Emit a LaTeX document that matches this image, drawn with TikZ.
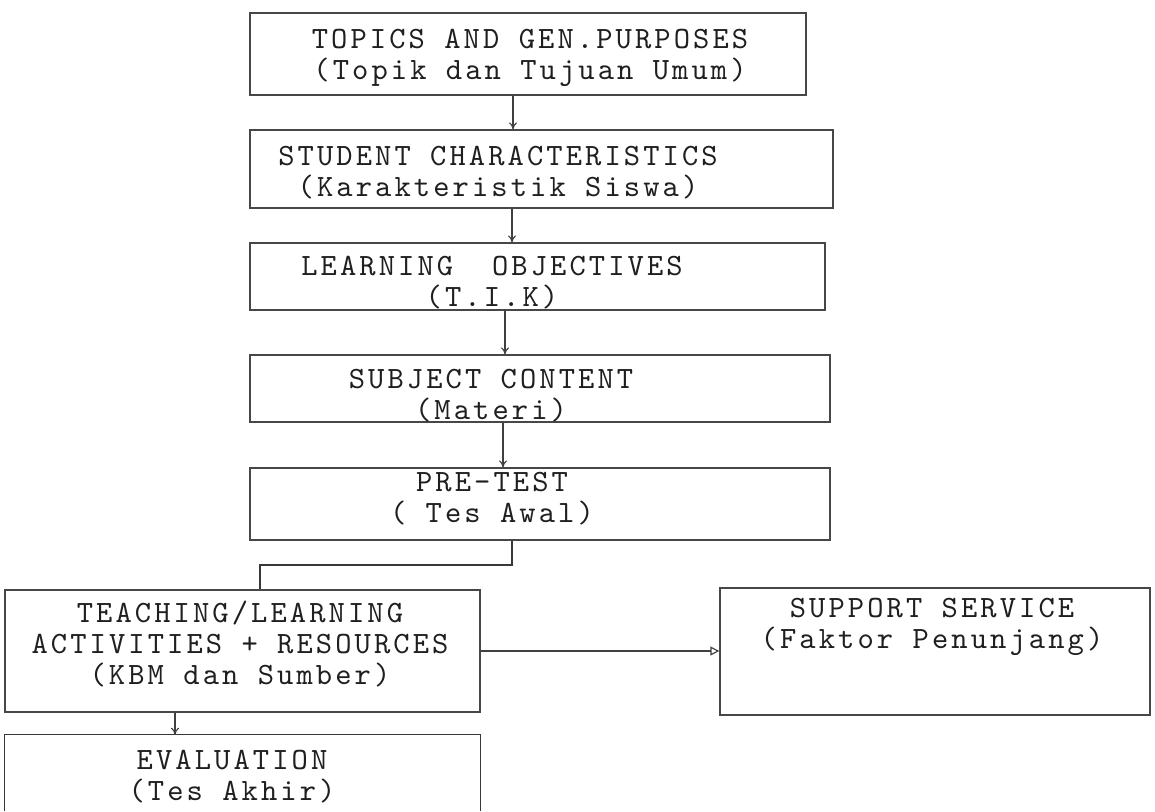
\documentclass[tikz,border=0pt]{standalone}
\usepackage{fontspec}
\newfontfamily\typew{lmmono10-regular.otf}[LetterSpace=10]
\usetikzlibrary{arrows.meta}
\begin{document}
\begin{tikzpicture}[x=1pt,y=-1pt,
  box/.style={draw=black!72,line width=1.3pt,rectangle,inner sep=0pt},
  txt/.style={align=center,inner sep=0pt,text=black!88,font=\fontsize{31}{31}\selectfont\typew},
  arr/.style={draw=black!75,line width=1.2pt,-{To[length=7pt,width=8pt]}},
  tri/.style={draw=black!75,line width=1.2pt,-{Triangle[open,length=9pt,width=9pt]}},
  link/.style={draw=black!78,line width=1.3pt}]
\useasboundingbox (0,0) rectangle (1155,811);
% boxes
\node[box,minimum width=556pt,minimum height=82pt] (b1) at (528,54) {};
\node[box,minimum width=583pt,minimum height=78pt] (b2) at (541.5,169) {};
\node[box,minimum width=575pt,minimum height=67pt] (b3) at (537.5,276.5) {};
\node[box,minimum width=580pt,minimum height=67pt] (b4) at (540,388.5) {};
\node[box,minimum width=580pt,minimum height=72pt] (b5) at (540,504) {};
\node[box,minimum width=475pt,minimum height=122pt] (b6) at (242.5,651) {};
\node[box,minimum width=430pt,minimum height=127pt] (b7) at (935,651.5) {};
\node[inner sep=0pt,minimum width=475pt,minimum height=76pt] (b8) at (242.5,773) {};
\draw[link] (b8.south west) -- (b8.north west) -- (b8.north east) -- (b8.south east);
% texts
\node[txt] (t1) at (530,58) {TOPICS AND GEN.PURPOSES\\(Topik dan Tujuan Umum)};
\node[txt] (t2) at (498,173) {STUDENT CHARACTERISTICS\\(Karakteristik Siswa)};
\node[txt] (t3) at (492,283) {LEARNING\ \ OBJECTIVES\\(T.I.K)};
\node[txt] (t4) at (491,396) {SUBJECT CONTENT\\(Materi)};
\node[txt] (t5) at (492,499) {PRE-TEST\\(\ Tes Awal)};
\node[txt] (t6) at (240,644) {TEACHING/LEARNING\\ACTIVITIES + RESOURCES\\(KBM dan Sumber)};
\node[txt] (t7) at (932,627) {SUPPORT SERVICE\\(Faktor Penunjang)};
\node[txt] (t8) at (232,777) {EVALUATION\\(Tes Akhir)};
% connector x positions
\coordinate (x1) at (513,0);
\coordinate (x2) at (512,0);
\coordinate (x3) at (505,0);
\coordinate (x4) at (503,0);
\coordinate (k1) at (512,565);
\coordinate (k2) at (260,565);
\coordinate (x6) at (175,0);
% connectors
\draw[arr] (b1.south -| x1) -- (b2.north -| x1);
\draw[arr] (b2.south -| x2) -- (b3.north -| x2);
\draw[arr] (b3.south -| x3) -- (b4.north -| x3);
\draw[arr] (b4.south -| x4) -- (b5.north -| x4);
\draw[link] (b5.south -| k1) -- (k1) -- (k2) -- (b6.north -| k2);
\draw[tri] (b6.east) -- (b6.east -| b7.west);
\draw[arr] (b6.south -| x6) -- (b8.north -| x6);
\end{tikzpicture}
\end{document}
